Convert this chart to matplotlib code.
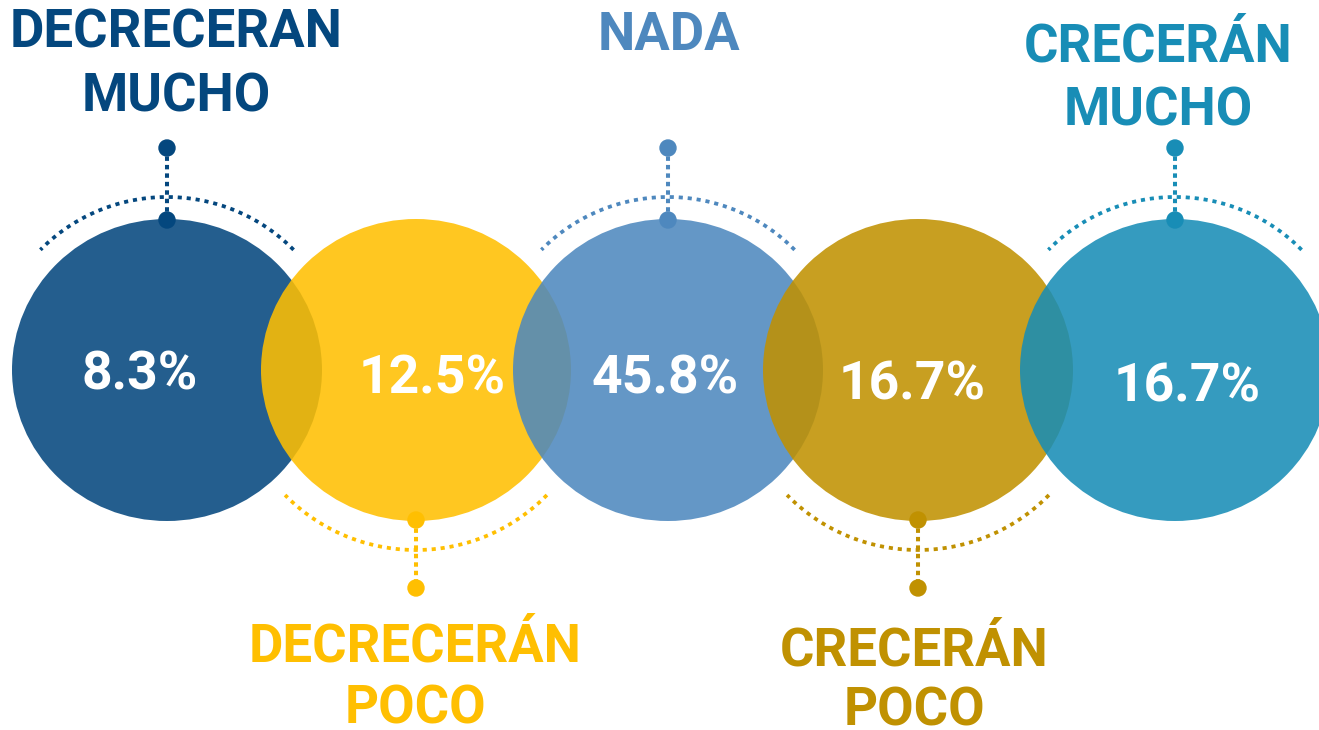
import numpy as np
import matplotlib
matplotlib.use("Agg")
import matplotlib.pyplot as plt
from matplotlib.patches import Ellipse, Circle

# ---- data ----
categories = [["DECRECERAN", "MUCHO"], ["DECRECERÁN", "POCO"], ["NADA"],
              ["CRECERÁN", "POCO"], ["CRECERÁN", "MUCHO"]]
values = [8.3, 12.5, 45.8, 16.7, 16.7]
colors = ["#04477E", "#FFBF01", "#4E88BE", "#C09101", "#188DB6"]
label_side = ["top", "bottom", "top", "bottom", "top"]

# ---- layout (pixel coordinates) ----
W, H = 1319, 730
cx = [167, 416, 668, 918, 1175]
cy = 370
rw, rh = 155, 151
pct_pos = [(140, 390), (432, 393), (665, 393), (912, 399), (1187, 402)]
label_x = [176, 415, 669, 914, 1158]
top_base = [[48, 112], None, [50], None, [62, 125]]
bot_base = [None, [662, 724], None, [665, 726], None]

fig = plt.figure(figsize=(W / 100, H / 100), dpi=100)
ax = fig.add_axes([0, 0, 1, 1])
ax.set_xlim(0, W)
ax.set_ylim(H, 0)
ax.axis("off")

font = "Roboto"
alpha = 0.875
lfs = 38

for i, (v, c) in enumerate(zip(values, colors)):
    ax.add_patch(Ellipse((cx[i], cy), 2 * rw, 2 * rh, facecolor=c,
                         edgecolor="none", alpha=alpha, zorder=2 + i))

for i, (v, c) in enumerate(zip(values, colors)):
    x0 = cx[i]
    if label_side[i] == "top":
        t = np.radians(np.linspace(44, 136, 200))
        ax.plot(x0 + 176 * np.cos(t), cy - 173 * np.sin(t), color=c,
                lw=2.7, ls=(0, (1.1, 1.3)), solid_capstyle="butt", zorder=10)
        ax.plot([x0, x0], [148, 220], color=c, lw=2.9, ls=(0, (1.1, 1.0)), zorder=10)
        for yy in (148, 220):
            ax.add_patch(Circle((x0, yy), 8, color=c, zorder=11))
        for line, yb in zip(categories[i], top_base[i]):
            ax.text(label_x[i], yb, line, ha="center", va="baseline",
                    fontsize=lfs, fontweight="bold", color=c, family=font, zorder=12)
    else:
        t = np.radians(np.linspace(-44, -136, 200))
        ax.plot(x0 + 182 * np.cos(t), cy - 180 * np.sin(t), color=c,
                lw=2.7, ls=(0, (1.1, 1.3)), solid_capstyle="butt", zorder=10)
        ax.plot([x0, x0], [520, 588], color=c, lw=2.9, ls=(0, (1.1, 1.0)), zorder=10)
        for yy in (520, 588):
            ax.add_patch(Circle((x0, yy), 8, color=c, zorder=11))
        for line, yb in zip(categories[i], bot_base[i]):
            ax.text(label_x[i], yb, line, ha="center", va="baseline",
                    fontsize=lfs, fontweight="bold", color=c, family=font, zorder=12)
    px, py = pct_pos[i]
    ax.text(px, py, f"{v:.1f}%", ha="center", va="baseline", fontsize=38.5,
            fontweight="bold", color="white", family=font, zorder=20)

fig.savefig("out.png", dpi=100)
